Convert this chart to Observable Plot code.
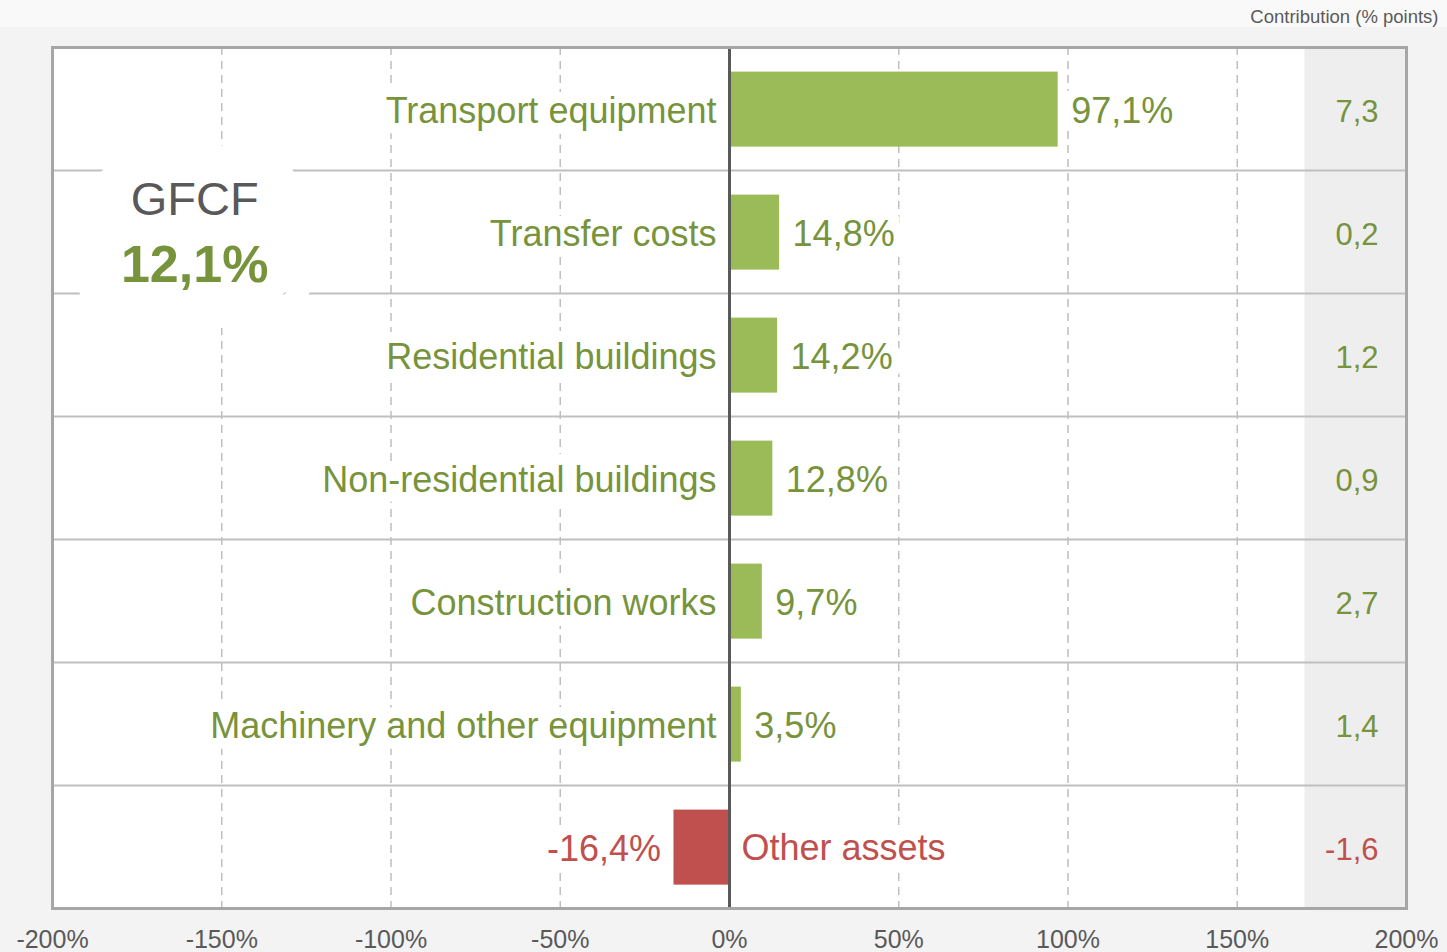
<!DOCTYPE html>
<html>
<head>
<meta charset="utf-8">
<script src="https://cdn.jsdelivr.net/npm/d3@7"></script>
<script src="https://cdn.jsdelivr.net/npm/@observablehq/plot@0.6"></script>
<style>
  html, body { margin: 0; padding: 0; }
  body {
    width: 1447px; height: 952px; overflow: hidden;
    background: linear-gradient(#f9f9f9 0, #f9f9f9 27px, #f3f3f3 27px);
    font-family: "Liberation Sans", Arial, sans-serif;
  }
  #chart svg { display: block; }
</style>
</head>
<body>
<div id="chart"></div>
<script>
// ---- data ----
const categories = [
  "Transport equipment",
  "Transfer costs",
  "Residential buildings",
  "Non-residential buildings",
  "Construction works",
  "Machinery and other equipment",
  "Other assets"
];
const growth = [97.1, 14.8, 14.2, 12.8, 9.7, 3.5, -16.4];
const contribution = [7.3, 0.2, 1.2, 0.9, 2.7, 1.4, -1.6];
const xTicks = [-200, -150, -100, -50, 0, 50, 100, 150, 200];
const gridTicks = [-150, -100, -50, 50, 100, 150];
const contributionColumn = [170, 200];
const totalLabel = "GFCF";
const totalValue = 12.1;
const columnTitle = "Contribution (% points)";

// ---- styling ----
const GREEN = "#9bbb59", GREEN_TXT = "#77933c";
const RED = "#c0504d", RED_TXT = "#c0504d";
const GRAY_TXT = "#595959";
const FONT = "Liberation Sans, Arial, sans-serif";
const LABEL_SIZE = 36;

const fmt = v => v.toFixed(1).replace(".", ",");
const rows = categories.map((c, i) => ({
  category: c, idx: i, value: growth[i], contrib: contribution[i], neg: growth[i] < 0
}));
const pos = rows.filter(d => !d.neg), neg = rows.filter(d => d.neg);
const separators = d3.range(1, categories.length);

const halo = { fill: "white", stroke: "white", strokeLinejoin: "round", fontFamily: FONT };

const chart = Plot.plot({
  width: 1447,
  height: 952,
  marginLeft: 52,
  marginRight: 41,
  marginTop: 47,
  marginBottom: 44,
  style: { background: "transparent", fontFamily: FONT, overflow: "visible" },
  x: { domain: [-200, 200], label: null },
  y: { domain: [categories.length, 0], axis: null },
  marks: [
    Plot.frame({ fill: "white", stroke: null }),
    Plot.rect([contributionColumn], { x1: d => d[0], x2: d => d[1], fill: "#eeeeee" }),
    Plot.ruleX(gridTicks, { stroke: "#bfbfbf", strokeWidth: 1.5, strokeDasharray: "8,6" }),
    Plot.ruleY(separators, { x1: -200, x2: 200, stroke: "#bfbfbf", strokeWidth: 2 }),
    Plot.axisX(xTicks, {
      tickFormat: d => d + "%", tickSize: 0, tickPadding: 22, fontSize: 25,
      fill: GRAY_TXT, label: null, fontFamily: FONT
    }),
    // total box: halos first, then text
    Plot.text([totalLabel], { x: -158, y: 1.24, text: d => d, fontSize: 47, strokeWidth: 76, ...halo }),
    Plot.text([totalValue], { x: -158, y: 1.77, text: d => fmt(d) + "%", fontSize: 52, fontWeight: "bold", strokeWidth: 92, ...halo }),
    Plot.text([totalLabel], { x: -158, y: 1.24, text: d => d, fontSize: 47, fill: GRAY_TXT, fontFamily: FONT }),
    Plot.text([totalValue], { x: -158, y: 1.77, text: d => fmt(d) + "%", fontSize: 52, fontWeight: "bold", fill: GREEN_TXT, fontFamily: FONT }),
    // category labels
    Plot.text(pos, {
      x: 0, y: d => d.idx + 0.5, text: "category", textAnchor: "end", dx: -13, dy: 2,
      fontSize: LABEL_SIZE, fill: GREEN_TXT, stroke: "white", strokeWidth: 22, strokeLinejoin: "round", fontFamily: FONT
    }),
    Plot.text(neg, {
      x: 0, y: d => d.idx + 0.5, text: "category", textAnchor: "start", dx: 12, dy: 1,
      fontSize: LABEL_SIZE, fill: RED_TXT, stroke: "white", strokeWidth: 22, strokeLinejoin: "round", fontFamily: FONT
    }),
    // value labels
    Plot.text(pos, {
      x: "value", y: d => d.idx + 0.5, text: d => fmt(d.value) + "%", textAnchor: "start", dx: 13, dy: 2,
      fontSize: LABEL_SIZE, fill: GREEN_TXT, stroke: "white", strokeWidth: 22, strokeLinejoin: "round", fontFamily: FONT
    }),
    Plot.text(neg, {
      x: "value", y: d => d.idx + 0.5, text: d => fmt(d.value) + "%", textAnchor: "end", dx: -13, dy: 2,
      fontSize: LABEL_SIZE, fill: RED_TXT, stroke: "white", strokeWidth: 22, strokeLinejoin: "round", fontFamily: FONT
    }),
    // bars
    Plot.rectX(rows, {
      x1: 0, x2: "value", y1: d => d.idx + 0.2, y2: d => d.idx + 0.81,
      fill: d => d.neg ? RED : GREEN
    }),
    Plot.ruleX([0], { stroke: "#595959", strokeWidth: 3 }),
    // contribution column (right-aligned inside the shaded column)
    Plot.text(rows, {
      x: contributionColumn[1], y: d => d.idx + 0.5, text: d => fmt(d.contrib),
      textAnchor: "end", dx: -28, dy: 3,
      fontSize: 31, fill: d => d.neg ? RED_TXT : GREEN_TXT, fontFamily: FONT
    }),
    Plot.text([columnTitle], {
      frameAnchor: "top-right", text: d => d, dy: -38, dx: 32,
      fontSize: 18.5, fill: GRAY_TXT, fontFamily: FONT
    }),
    Plot.frame({ stroke: "#a6a6a6", strokeWidth: 3 })
  ]
});
document.getElementById("chart").appendChild(chart);
</script>
</body>
</html>
